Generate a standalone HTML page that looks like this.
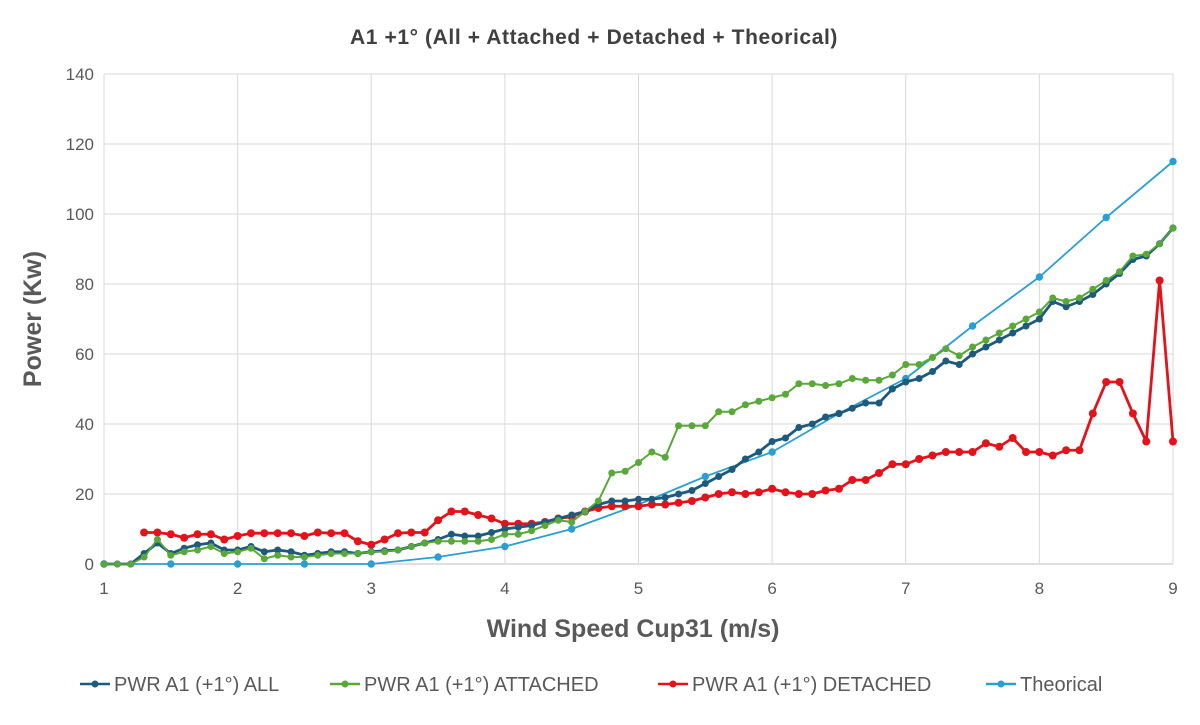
<!DOCTYPE html>
<html><head><meta charset="utf-8"><style>
body{margin:0;background:#fff;font-family:"Liberation Sans",sans-serif}
svg text{font-family:"Liberation Sans",sans-serif;fill:#595959}
</style></head><body>
<svg width="1200" height="720" id="chart">
<text x="594" y="44" text-anchor="middle" font-size="21" font-weight="bold" letter-spacing="0.6" style="fill:#404040">A1 +1° (All + Attached + Detached + Theorical)</text>
<g id="grid"></g><g id="series"></g>
<text transform="translate(41,319) rotate(-90)" text-anchor="middle" font-size="25" font-weight="bold">Power (Kw)</text>
<text x="633" y="637" text-anchor="middle" font-size="25" font-weight="bold">Wind Speed Cup31 (m/s)</text>
<g id="legend"></g>
</svg>
<script>
const xTicks=[1,2,3,4,5,6,7,8,9];
const yTicks=[0,20,40,60,80,100,120,140];
const allVals=[0,0,0,3,6,3,4.5,5.5,6,4,4,5,3.5,4,3.5,2.5,3,3.5,3.5,3,3.5,3.8,4,5,6,7,8.5,8,8,9,10,10.5,11,12,13,14,15,17,18,18,18.5,18.5,19,20,21,23,25,27,30,32,35,36,39,40,42,43,44.5,46,46,50,52,53,55,58,57,60,62,64,66,68,70,75,73.5,75,77,80,83,87,88,91.5,96];
const attVals=[0,0,0,2,7,2.5,3.5,4,5,3,3.5,4.5,1.5,2.5,2,2,2.5,3,3,3,3.5,3.5,4,5,6,6.5,6.5,6.5,6.5,7,8.5,8.5,9.5,11,12.5,12,15,18,26,26.5,29,32,30.5,39.5,39.5,39.5,43.5,43.5,45.5,46.5,47.5,48.5,51.5,51.5,51,51.5,53,52.5,52.5,54,57,57,59,61.5,59.5,62,64,66,68,70,72,76,75,76,78.5,81,83.5,88,88.5,91.5,96];
const detVals=[9,9,8.5,7.5,8.5,8.5,7,8,8.8,8.8,8.8,8.8,8,9,8.8,8.8,6.5,5.5,7,8.8,9,9,12.5,15,15,14,13,11.5,11.5,11.5,12,13,13.5,15,16,16.5,16.5,16.5,17,17,17.5,18,19,20,20.5,20,20.5,21.5,20.5,20,20,21,21.5,24,24,26,28.5,28.5,30,31,32,32,32,34.5,33.5,36,32,32,31,32.5,32.5,43,52,52,43,35,81,35];
const theoX=[1,1.5,2,2.5,3,3.5,4,4.5,5,5.5,6,6.5,7,7.5,8,8.5,9];
const theoVals=[0,0,0,0,0,2,5,10,17,25,32,43,53,68,82,99,115];
const L=104,R=1173,T=74,B=564;
const xs=v=>L+(v-1)/8*(R-L), ys=v=>B-v/140*(B-T);
const NS='http://www.w3.org/2000/svg';
function mk(t,a,p){const e=document.createElementNS(NS,t);for(const k in a)e.setAttribute(k,a[k]);p.appendChild(e);return e;}
const grid=document.getElementById('grid');
yTicks.forEach(v=>{
 const l=mk('line',{x1:L,x2:R,y1:ys(v),y2:ys(v),stroke:v===0?'#bfbfbf':'#d9d9d9','stroke-width':1},grid);
 
 
 const t=mk('text',{x:L-10,y:ys(v)+6,'text-anchor':'end','font-size':17},grid);t.textContent=v;
 
 
});
xTicks.forEach(v=>{
 const l=mk('line',{x1:xs(v),x2:xs(v),y1:T,y2:B,stroke:'#d9d9d9','stroke-width':1},grid);
 
 
 const t=mk('text',{x:xs(v),y:B+30,'text-anchor':'middle','font-size':17},grid);t.textContent=v;
 
 
});
const sg=document.getElementById('series');
function draw(xv,yv,color,w,r,name){
 const g=mk('g',{},sg);
 
 
 const pts=yv.map((y,i)=>xs(xv[i])+','+ys(y)).join(' ');
 mk('polyline',{points:pts,fill:'none',stroke:color,'stroke-width':w,'stroke-linejoin':'round'},g);
 yv.forEach((y,i)=>{const c=mk('circle',{cx:xs(xv[i]),cy:ys(y),r:r,fill:color},g);
  
  });
}
const xAll=allVals.map((_,i)=>1+i*0.1);
const xDet=detVals.map((_,i)=>1.3+i*0.1);
draw(theoX,theoVals,'#2a9fd0',1.8,3.7,'theorical-series');
draw(xDet,detVals,'#e3121b',2.8,4,'detached-series');
draw(xAll,attVals,'#5ba83a',2,3.5,'attached-series');
draw(xAll,allVals,'#1d5a7c',2.8,3.5,'all-series');
draw(xAll,attVals,'#5ba83a',1.5,3.3,'attached-series-top');
const lg=document.getElementById('legend');
const items=[['PWR A1 (+1°) ALL','#1d5a7c',80],['PWR A1 (+1°) ATTACHED','#5ba83a',330],['PWR A1 (+1°) DETACHED','#e3121b',658],['Theorical','#2a9fd0',986]];
items.forEach(it=>{
 const g=mk('g',{},lg);
 
 
 mk('line',{x1:it[2],x2:it[2]+30,y1:684,y2:684,stroke:it[1],'stroke-width':2.5},g);
 mk('circle',{cx:it[2]+15,cy:684,r:3.5,fill:it[1]},g);
 const t=mk('text',{x:it[2]+34,y:691,'font-size':20},g);t.textContent=it[0];
});
</script>
</body></html>
